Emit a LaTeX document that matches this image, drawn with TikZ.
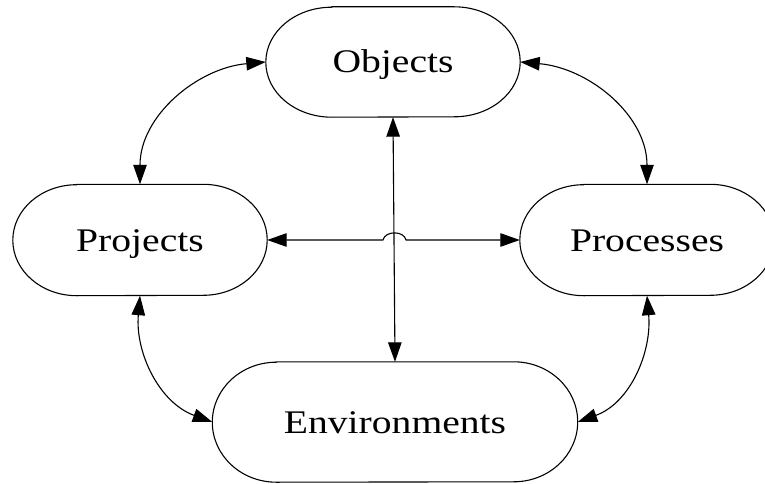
\documentclass[tikz,border=0pt]{standalone}
\usepackage{fontspec}
\newfontfamily\lblfont[FakeStretch=1.2]{Liberation Serif}
\usetikzlibrary{arrows.meta}
\newcommand\stadiumline[3]{% name, cap, half height
  \draw[outline] ([xshift=#2pt]#1.north west) -- ([xshift=-#2pt]#1.north east)
    arc[start angle=90,end angle=-90,x radius=#2pt,y radius=#3pt]
    -- ([xshift=#2pt]#1.south west)
    arc[start angle=270,end angle=90,x radius=#2pt,y radius=#3pt] -- cycle;}
\begin{document}
\begin{tikzpicture}[x=1pt,y=1pt,
  outline/.style={line width=1.1pt,black},
  stnode/.style={draw=none,inner sep=0pt,text height=22pt,text depth=0pt,
    font=\lblfont\fontsize{33}{40}\selectfont},
  conn/.style={line width=1.1pt,{Triangle[length=19.5pt,width=13.5pt]}-{Triangle[length=19.5pt,width=13.5pt]}}]
\useasboundingbox (0,0) rectangle (765,483);
\node[stnode,minimum width=254pt,minimum height=110pt] (Objects) at (393,421) {Objects};
\node[stnode,minimum width=254pt,minimum height=111pt] (Projects) at (140,243) {Projects};
\node[stnode,minimum width=254pt,minimum height=111pt] (Processes) at (647,243) {Processes};
\node[stnode,minimum width=365pt,minimum height=120pt] (Environments) at (395,61) {Environments};
\stadiumline{Objects}{66}{55}
\stadiumline{Projects}{64}{55.5}
\stadiumline{Processes}{64}{55.5}
\stadiumline{Environments}{64}{60}
\coordinate (hopL) at (383,243);
\coordinate (hopR) at (406,243);
\draw[conn] (Objects.west) to[out=185,in=90] (Projects.north);
\draw[conn] (Objects.east) to[out=-5,in=90] (Processes.north);
\draw[conn] (Projects.south) to[out=-95,in=160] (Environments.west);
\draw[conn] (Processes.south) to[out=-85,in=20] (Environments.east);
\draw[conn] (Objects.south) -- (Environments.north);
\draw[conn] (Projects.east) -- (hopL) .. controls +(2,9.5) and +(-2,9.5) .. (hopR) -- (Processes.west);
\end{tikzpicture}
\end{document}
